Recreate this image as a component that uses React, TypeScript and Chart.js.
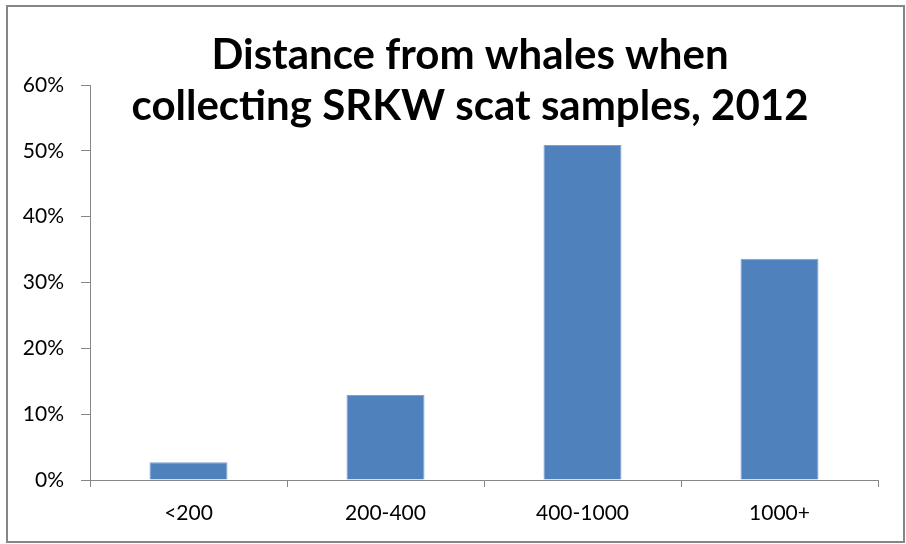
import React, { useEffect, useRef } from "react";
import { Chart, registerables } from "chart.js";

Chart.register(...registerables);

const categories = ["<200", "200-400", "400-1000", "1000+"];
const percentValues = [2.7, 12.9, 50.9, 33.6];
const titleLines = ["Distance from whales when", "collecting SRKW scat samples, 2012"];
const yMax = 60;
const yStep = 10;

const FONT = "Lato, 'Open Sans', sans-serif";
const GRAY = "#868686";

const frameAndTitle = {
  id: "frameAndTitle",
  afterDraw(chart: any) {
    const ctx = chart.ctx;
    ctx.save();
    ctx.strokeStyle = GRAY;
    ctx.lineWidth = 2;
    ctx.strokeRect(7, 6, 897, 536);
    ctx.fillStyle = "#000";
    ctx.font = `bold 42px ${FONT}`;
    ctx.textAlign = "center";
    ctx.textBaseline = "alphabetic";
    ctx.fillText(titleLines[0], 470, 69);
    ctx.fillText(titleLines[1], 470, 120);
    ctx.restore();
  },
};

export default function App() {
  const ref = useRef<HTMLCanvasElement | null>(null);
  useEffect(() => {
    if (!ref.current) return;
    const chart = new Chart(ref.current, {
      type: "bar",
      data: {
        labels: categories,
        datasets: [
          {
            data: percentValues,
            backgroundColor: "#4F81BD",
            borderColor: "#7EA0CF",
            borderWidth: 1,
            categoryPercentage: 1,
            barPercentage: 0.396,
          },
        ],
      },
      options: {
        animation: false,
        responsive: false,
        layout: { padding: { top: 85, right: 28, left: 0, bottom: 0 } },
        plugins: {
          legend: { display: false },
          title: { display: false },
          tooltip: { enabled: false },
        },
        scales: {
          x: {
            afterFit: (s: any) => {
              s.height = 64;
            },
            grid: {
              display: true,
              offset: true,
              drawOnChartArea: false,
              drawTicks: true,
              tickLength: 7,
              color: GRAY,
            },
            border: { display: true, color: GRAY, width: 1 },
            ticks: {
              color: "#000",
              font: { family: FONT, size: 21 },
              padding: 14,
              maxRotation: 0,
            },
          },
          y: {
            min: 0,
            max: yMax,
            afterFit: (s: any) => {
              s.width = 90;
            },
            grid: {
              display: true,
              drawOnChartArea: false,
              drawTicks: true,
              tickLength: 9,
              color: GRAY,
            },
            border: { display: true, color: GRAY, width: 1 },
            ticks: {
              stepSize: yStep,
              color: "#000",
              font: { family: FONT, size: 21 },
              padding: 17,
              callback: (v: any) => `${v}%`,
            },
          },
        },
      },
      plugins: [frameAndTitle],
    });
    return () => chart.destroy();
  }, []);
  return (
    <div style={{ position: "absolute", left: 0, top: 0, width: 906, height: 544 }}>
      <canvas ref={ref} width={906} height={544} />
    </div>
  );
}
